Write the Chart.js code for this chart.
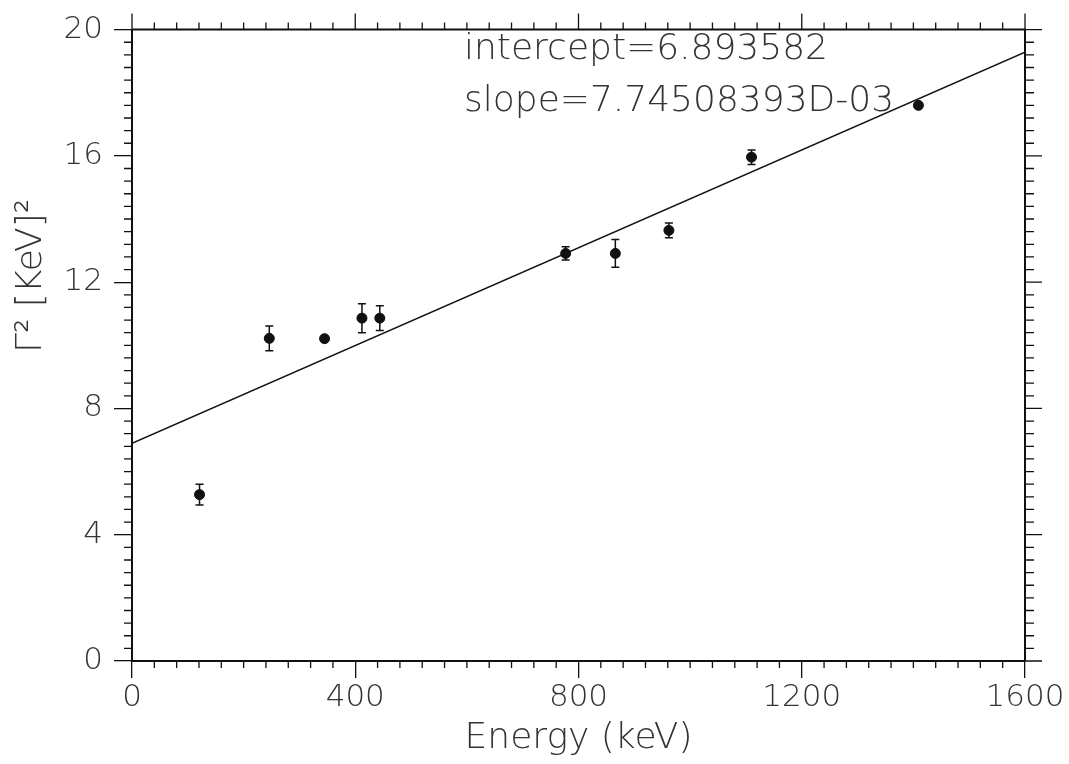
<!DOCTYPE html>
<html>
<head>
<meta charset="utf-8">
<title>Gamma^2 vs Energy</title>
<script src="https://cdn.jsdelivr.net/npm/chart.js@4.4.1/dist/chart.umd.min.js"></script>
<style>
  html, body { margin: 0; padding: 0; background: #fff; }
  #wrap { width: 1069px; height: 764px; }
</style>
</head>
<body>
<div id="wrap"><canvas id="plot" width="1069" height="764"></canvas></div>
<script>
const energy   = [121, 246, 345, 412, 444, 777, 866, 962, 1110, 1409];
const gamma2   = [5.27, 10.22, 10.21, 10.86, 10.86, 12.91, 12.91, 13.64, 15.96, 17.60];
const gammaErr = [0.33, 0.39, 0, 0.46, 0.39, 0.21, 0.44, 0.23, 0.23, 0];

// fitted line end points
const fitX = [0, 1600];
const fitY = [6.894, 19.286];

// axes
const xRange = [0, 1600];
const yRange = [0, 20];
const xMajorStep = 400, xMinorStep = 40;
const yMajorStep = 4,   yMinorStep = 0.4;

const fitText = ['intercept=6.893582', 'slope=7.74508393D-03'];
const xTitle = 'Energy (keV)';
const yTitle = 'Γ² [KeV]²';

const FONT = '"DejaVu Sans ExtraLight", "DejaVu Sans Light", "DejaVu Sans", sans-serif';
const INK = '#111';
const TXT = '#333';

// frame, minor ticks, top/right ticks, error bars, text
const extras = {
    id: 'extras',
    afterDatasetsDraw(chart) {
        const ctx = chart.ctx;
        const a = chart.chartArea;
        const xs = chart.scales.x, ys = chart.scales.y;
        ctx.save();
        ctx.strokeStyle = INK;

        // error bars
        ctx.lineWidth = 1.5;
        energy.forEach((e, i) => {
            if (!gammaErr[i]) return;
            const px = xs.getPixelForValue(e);
            const top = ys.getPixelForValue(gamma2[i] + gammaErr[i]);
            const bot = ys.getPixelForValue(gamma2[i] - gammaErr[i]);
            ctx.beginPath();
            ctx.moveTo(px, top); ctx.lineTo(px, bot);
            ctx.moveTo(px - 4, top); ctx.lineTo(px + 4, top);
            ctx.moveTo(px - 4, bot); ctx.lineTo(px + 4, bot);
            ctx.stroke();
        });

        // frame (top and right sides)
        ctx.lineWidth = 2;
        ctx.beginPath();
        ctx.moveTo(a.left, a.top); ctx.lineTo(a.right, a.top); ctx.lineTo(a.right, a.bottom);
        ctx.stroke();

        // ticks
        ctx.lineWidth = 1.3;
        ctx.beginPath();
        for (let v = xRange[0]; v <= xRange[1] + 1e-6; v += xMinorStep) {
            const px = xs.getPixelForValue(v);
            const major = Math.abs(v / xMajorStep - Math.round(v / xMajorStep)) < 1e-6;
            ctx.moveTo(px, a.top); ctx.lineTo(px, a.top - (major ? 16 : 7));
            if (!major) { ctx.moveTo(px, a.bottom); ctx.lineTo(px, a.bottom + 7); }
        }
        for (let v = yRange[0]; v <= yRange[1] + 1e-6; v += yMinorStep) {
            const py = ys.getPixelForValue(v);
            const major = Math.abs(v / yMajorStep - Math.round(v / yMajorStep)) < 1e-6;
            ctx.moveTo(a.right, py); ctx.lineTo(a.right + (major ? 17 : 9), py);
            if (!major) { ctx.moveTo(a.left, py); ctx.lineTo(a.left - 8, py); }
        }
        ctx.stroke();

        // fit result text
        ctx.fillStyle = TXT;
        ctx.font = '200 36px ' + FONT;
        ctx.textAlign = 'left';
        ctx.textBaseline = 'middle';
        ctx.fillText(fitText[0], 464, 50);
        ctx.fillText(fitText[1], 464, 102);

        // y title
        ctx.translate(32, 276);
        ctx.rotate(-Math.PI / 2);
        ctx.textAlign = 'center';
        ctx.fillText(yTitle, 0, 0);
        ctx.restore();
    }
};

const tickFont = { family: FONT, size: 31, weight: 200 };
const plainNum = v => String(v);

new Chart(document.getElementById('plot'), {
    type: 'scatter',
    data: {
        datasets: [
            {
                label: 'data',
                data: energy.map((e, i) => ({ x: e, y: gamma2[i] })),
                backgroundColor: INK,
                borderColor: INK,
                pointRadius: 5,
                pointHoverRadius: 5
            },
            {
                label: 'fit',
                type: 'line',
                data: fitX.map((x, i) => ({ x: x, y: fitY[i] })),
                borderColor: INK,
                borderWidth: 1.5,
                pointRadius: 0,
                fill: false
            }
        ]
    },
    options: {
        responsive: false,
        animation: false,
        events: [],
        layout: { padding: { top: 28, right: 44, bottom: 0, left: 0 } },
        plugins: { legend: { display: false }, tooltip: { enabled: false } },
        scales: {
            x: {
                type: 'linear',
                min: xRange[0], max: xRange[1],
                afterFit: s => { s.height = 103; },
                ticks: { stepSize: xMajorStep, color: TXT, font: tickFont, padding: 1, maxRotation: 0, callback: plainNum },
                grid: { drawOnChartArea: false, drawTicks: true, tickLength: 17, color: INK, lineWidth: 1.3 },
                border: { display: true, color: INK, width: 2 },
                title: { display: true, text: xTitle, color: TXT, font: { family: FONT, size: 36, weight: 200 }, padding: { top: 0, bottom: 4 } }
            },
            y: {
                type: 'linear',
                min: yRange[0], max: yRange[1],
                afterFit: s => { s.width = 132; },
                ticks: { stepSize: yMajorStep, color: TXT, font: tickFont, padding: 11, callback: plainNum },
                grid: { drawOnChartArea: false, drawTicks: true, tickLength: 18, color: INK, lineWidth: 1.3 },
                border: { display: true, color: INK, width: 2 }
            }
        }
    },
    plugins: [extras]
});
</script>
</body>
</html>
